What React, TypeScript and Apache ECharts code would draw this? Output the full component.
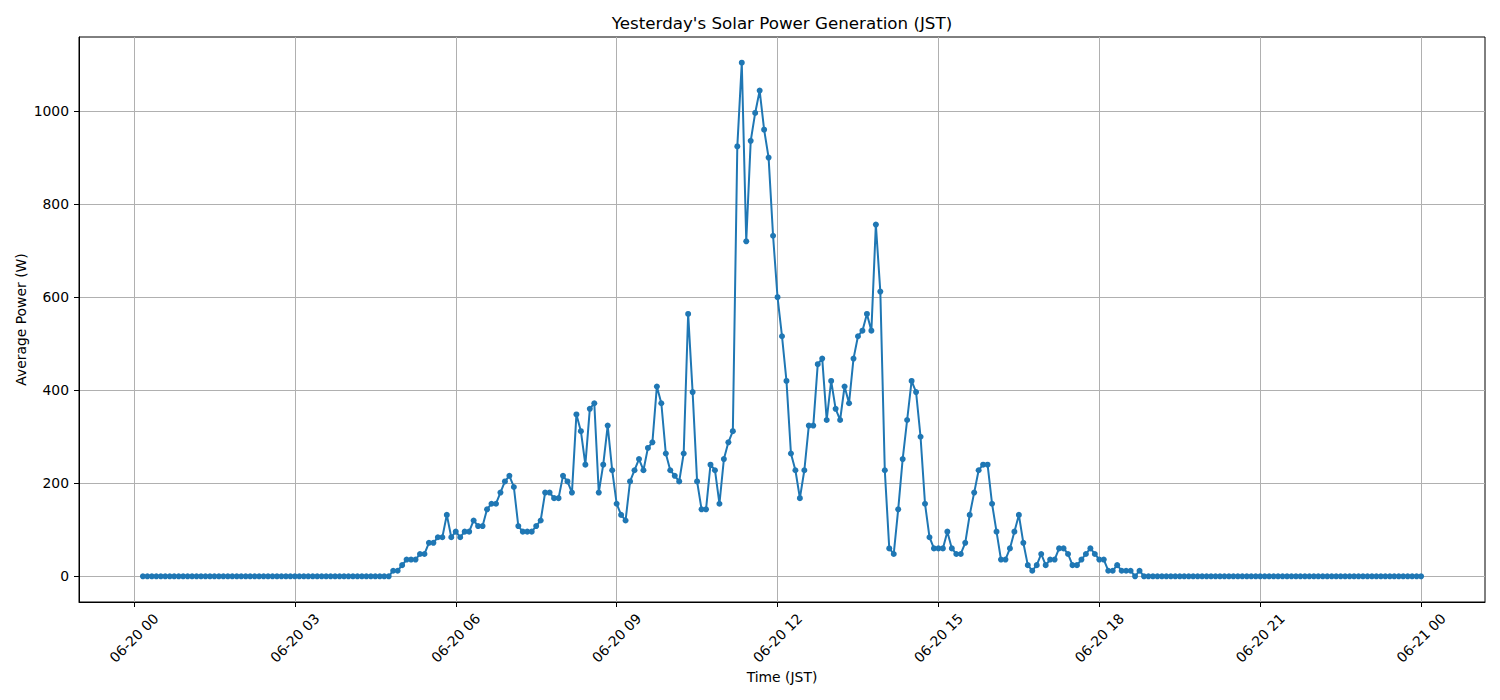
import React, { useEffect, useRef } from "react";
import * as echarts from "echarts";

// Sampling: first point at 06-20 00:10 JST, one point every 5 minutes, last at 06-21 00:00
const startMinute = 10;
const stepMinutes = 5;

// Average power (W) per 5-minute sample
const powerW: number[] = [
  // 00:10 - 04:45
  0, 0, 0, 0, 0, 0, 0, 0, 0, 0,
  0, 0, 0, 0, 0, 0, 0, 0, 0, 0,
  0, 0, 0, 0, 0, 0, 0, 0, 0, 0,
  0, 0, 0, 0, 0, 0, 0, 0, 0, 0,
  0, 0, 0, 0, 0, 0, 0, 0, 0, 0,
  0, 0, 0, 0, 0, 0,
  // 04:50 onwards
  12, 12, 24, 36, 36, 36, 48, 48, 72, 72,
  84, 84, 132, 84, 96, 84, 96, 96, 120, 108,
  108, 144, 156, 156, 180, 204, 216, 192, 108, 96,
  96, 96, 108, 120, 180, 180, 168, 168, 216, 204,
  180, 348, 312, 240, 360, 372, 180, 240, 324, 228,
  156, 132, 120, 204, 228, 252, 228, 276, 288, 408,
  372, 264, 228, 216, 204, 264, 564, 396, 204, 144,
  144, 240, 228, 156, 252, 288, 312, 924, 1104, 720,
  936, 996, 1044, 960, 900, 732, 600, 516, 420, 264,
  228, 168, 228, 324, 324, 456, 468, 336, 420, 360,
  336, 408, 372, 468, 516, 528, 564, 528, 756, 612,
  228, 60, 48, 144, 252, 336, 420, 396, 300, 156,
  84, 60, 60, 60, 96, 60, 48, 48, 72, 132,
  180, 228, 240, 240, 156, 96, 36, 36, 60, 96,
  132, 72, 24, 12, 24, 48, 24, 36, 36, 60,
  60, 48, 24, 24, 36, 48, 60, 48, 36, 36,
  12, 12, 24, 12, 12, 12, 0, 12,
  // 18:50 - 24:00
  0, 0, 0, 0, 0, 0, 0, 0, 0, 0,
  0, 0, 0, 0, 0, 0, 0, 0, 0, 0,
  0, 0, 0, 0, 0, 0, 0, 0, 0, 0,
  0, 0, 0, 0, 0, 0, 0, 0, 0, 0,
  0, 0, 0, 0, 0, 0, 0, 0, 0, 0,
  0, 0, 0, 0, 0, 0, 0, 0, 0, 0,
  0, 0, 0,
];

// Tick positions (hours since 06-20 00:00) and y ticks
const xTickHours = [0, 3, 6, 9, 12, 15, 18, 21, 24];
const yTicks = [0, 200, 400, 600, 800, 1000];

const titleText = "Yesterday's Solar Power Generation (JST)";
const xAxisName = "Time (JST)";
const yAxisName = "Average Power (W)";

const FONT = "DejaVu Sans";
const LINE_COLOR = "#1f77b4";
const GRID_COLOR = "#b0b0b0";

function fmtHour(h: number): string {
  const day = 20 + Math.floor(h / 24);
  const hh = ((h % 24) + 24) % 24;
  return `06-${day} ${String(hh).padStart(2, "0")}`;
}

export default function App() {
  const ref = useRef<HTMLDivElement>(null);

  useEffect(() => {
    if (!ref.current) return;
    const chart = echarts.init(ref.current, null, { renderer: "svg" });

    const data = powerW.map((v, i) => [(startMinute + i * stepMinutes) / 60, v]);
    const xs = data.map((d) => d[0]);
    const ys = data.map((d) => d[1]);
    const x0 = Math.min(...xs);
    const x1 = Math.max(...xs);
    const y0 = Math.min(...ys);
    const y1 = Math.max(...ys);
    const xPad = (x1 - x0) * 0.05;
    const yPad = (y1 - y0) * 0.05;

    const left = 79;
    const right = 15;
    const top = 37;
    const bottom = 98;
    const plotW = 1500 - left - right;
    const cx = left + plotW / 2;

    chart.setOption({
      animation: false,
      backgroundColor: "#ffffff",
      textStyle: { fontFamily: FONT },
      grid: {
        left,
        right,
        top,
        bottom,
        show: true,
        borderColor: "#000000",
        borderWidth: 1,
        backgroundColor: "transparent",
        containLabel: false,
      },
      xAxis: {
        type: "value",
        min: x0 - xPad,
        max: x1 + xPad,
        axisLine: { show: true, onZero: false, lineStyle: { color: "#000", width: 1 } },
        axisTick: {
          show: true,
          inside: false,
          length: 5,
          customValues: xTickHours,
          lineStyle: { color: "#000", width: 1 },
        },
        axisLabel: {
          show: true,
          customValues: xTickHours,
          formatter: (v: number) => fmtHour(v),
          rotate: 45,
          align: "center",
          verticalAlign: "middle",
          margin: 36,
          fontSize: 13.9,
          color: "#000",
          fontFamily: FONT,
          hideOverlap: false,
        },
        splitLine: { show: true, lineStyle: { color: GRID_COLOR, width: 1 } },
      },
      yAxis: {
        type: "value",
        min: y0 - yPad,
        max: y1 + yPad,
        axisLine: { show: true, onZero: false, lineStyle: { color: "#000", width: 1 } },
        axisTick: {
          show: true,
          inside: false,
          length: 5,
          customValues: yTicks,
          lineStyle: { color: "#000", width: 1 },
        },
        axisLabel: {
          show: true,
          customValues: yTicks,
          margin: 10,
          fontSize: 13.9,
          color: "#000",
          fontFamily: FONT,
          formatter: (v: number) => String(v),
        },
        splitLine: { show: true, lineStyle: { color: GRID_COLOR, width: 1 } },
      },
      series: [
        {
          type: "line",
          data,
          showSymbol: true,
          symbol: "circle",
          symbolSize: 6,
          lineStyle: { color: LINE_COLOR, width: 2 },
          itemStyle: { color: LINE_COLOR, borderWidth: 0 },
          emphasis: { disabled: true },
          z: 3,
        },
      ],
      graphic: [
        {
          type: "text",
          x: cx,
          y: 23,
          style: {
            text: titleText,
            fontSize: 16.7,
            fontFamily: FONT,
            fill: "#000",
            textAlign: "center",
            textVerticalAlign: "middle",
          },
        },
        {
          type: "text",
          x: cx,
          y: 677,
          style: {
            text: xAxisName,
            fontSize: 13.9,
            fontFamily: FONT,
            fill: "#000",
            textAlign: "center",
            textVerticalAlign: "middle",
          },
        },
        {
          type: "text",
          x: 21,
          y: top + (700 - top - bottom) / 2,
          rotation: Math.PI / 2,
          style: {
            text: yAxisName,
            fontSize: 13.9,
            fontFamily: FONT,
            fill: "#000",
            textAlign: "center",
            textVerticalAlign: "middle",
          },
        },
      ],
    });

    return () => {
      chart.dispose();
    };
  }, []);

  return (
    <div
      ref={ref}
      style={{ position: "absolute", left: 0, top: 0, width: 1500, height: 700 }}
    />
  );
}
